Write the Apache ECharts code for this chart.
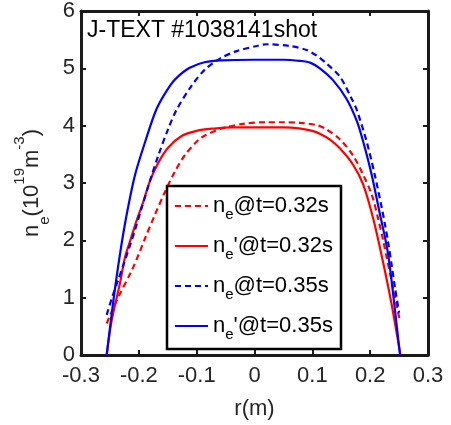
<!DOCTYPE html>
<html><head><meta charset="utf-8">
<script src="https://cdn.jsdelivr.net/npm/echarts@6.0.0/dist/echarts.min.js"></script>
<style>html,body{margin:0;padding:0;background:#fff}#c{width:451px;height:425px}</style>
</head><body><div id="c"></div>
<script>
// ---- data (r in m, ne in 1e19 m^-3) ----
const ne032_r = [-0.2556,-0.2355,-0.2124,-0.2,-0.189,-0.172,-0.155,-0.1375,-0.12,-0.097,-0.0856,-0.0567,-0.02,0.02,0.05,0.0787,0.1076,0.122,0.148,0.171,0.188,0.2027,0.214,0.2227,0.2286,0.243,0.2516];
const ne032_v = [0.55,1.01,1.47,1.76,2.04,2.45,2.84,3.20,3.49,3.75,3.83,3.95,4.03,4.06,4.06,4.05,4.01,3.95,3.76,3.47,3.14,2.80,2.37,1.99,1.70,1.01,0.58];

const neP032_r = [-0.2556,-0.247,-0.2326,-0.224,-0.215,-0.204,-0.192,-0.181,-0.166,-0.149,-0.126,-0.1,-0.07,-0.04,0,0.05,0.08,0.1,0.113,0.13,0.148,0.171,0.188,0.206,0.2227,0.237,0.249,0.2525];
const neP032_v = [0,0.6,1.25,1.70,1.99,2.34,2.68,3.03,3.36,3.62,3.82,3.91,3.95,3.97,3.97,3.97,3.95,3.91,3.86,3.76,3.60,3.31,2.97,2.35,1.60,0.89,0.2,0];

const ne035_r = [-0.2556,-0.247,-0.236,-0.225,-0.214,-0.2066,-0.195,-0.181,-0.166,-0.149,-0.1346,-0.1086,-0.0856,-0.0597,-0.031,0.004,0.021,0.061,0.09,0.1076,0.125,0.148,0.168,0.1767,0.194,0.208,0.22,0.2257,0.231,0.237,0.243,0.25];
const ne035_v = [0.70,0.98,1.30,1.62,1.95,2.18,2.57,3.03,3.49,3.95,4.28,4.70,4.98,5.17,5.30,5.39,5.42,5.39,5.32,5.22,5.08,4.85,4.47,4.28,3.72,3.14,2.57,2.27,1.97,1.58,1.17,0.74];

const neP035_r = [-0.2556,-0.244,-0.2326,-0.221,-0.2066,-0.189,-0.169,-0.146,-0.132,-0.112,-0.085,-0.057,0,0.05,0.0787,0.096,0.113,0.136,0.159,0.177,0.188,0.2027,0.217,0.2257,0.231,0.237,0.2516];
const neP035_v = [0,0.95,1.76,2.45,3.14,3.72,4.30,4.70,4.86,5.01,5.11,5.14,5.15,5.15,5.13,5.10,5.0,4.79,4.47,4.08,3.72,3.14,2.45,2.05,1.76,1.30,0];

const seriesNames = ['ne032','neP032','ne035','neP035'];
const legendTimes = ['@t=0.32s',"'@t=0.32s",'@t=0.35s',"'@t=0.35s"];
const titleText = 'J-TEXT #1038141shot';
const xRange = [-0.3, 0.3, 0.1];
const yRange = [0, 6, 1];

const zip = (a, b) => a.map((x, i) => [x, b[i]]);
const FONT = 'Liberation Sans, Arial, sans-serif';
const AX = '#1a1a1a';

const chart = echarts.init(document.getElementById('c'), null, {renderer: 'canvas'});

function mkSeries(name, r, v, color, dashed) {
  return {
    name, type: 'line', xAxisIndex: 0, yAxisIndex: 0,
    data: zip(r, v), symbol: 'none', smooth: 0.3,
    lineStyle: {color, width: 2.2, type: dashed ? [6, 4] : 'solid'},
    itemStyle: {color}, z: 2
  };
}

const axisCommon = {
  axisLine: {show: true, onZero: false, lineStyle: {color: AX, width: 3}},
  axisTick: {show: true, inside: true, length: 5, lineStyle: {color: AX, width: 2}},
  splitLine: {show: false}
};

chart.setOption({
  animation: false,
  backgroundColor: '#fff',
  grid: {left: 81, right: 23, top: 11, bottom: 67, containLabel: false},
  xAxis: [
    Object.assign({
      type: 'value', position: 'bottom', min: xRange[0], max: xRange[1], interval: xRange[2],
      axisLabel: {color: '#262626', fontSize: 22, fontFamily: FONT, margin: 10,
        formatter: v => (Math.round(v * 10) / 10).toString()},
      name: 'r(m)', nameLocation: 'middle', nameGap: 43,
      nameTextStyle: {color: '#262626', fontSize: 22, fontFamily: FONT}
    }, axisCommon),
    Object.assign({
      type: 'value', position: 'top', min: xRange[0], max: xRange[1], interval: xRange[2],
      axisLabel: {show: false}
    }, axisCommon)
  ],
  yAxis: [
    Object.assign({
      type: 'value', position: 'left', min: yRange[0], max: yRange[1], interval: yRange[2],
      axisLabel: {color: '#262626', fontSize: 22, fontFamily: FONT, margin: 6},
      name: '{n|n}{sub|e}{n|(10}{sup|19}{n|m}{sup|-3}{n|)}',
      nameLocation: 'middle', nameGap: 25, nameRotate: 90,
      nameTextStyle: {
        color: '#262626', fontFamily: FONT,
        rich: {
          n: {fontSize: 22, lineHeight: 40, fontFamily: FONT, color: '#262626'},
          sub: {fontSize: 15, lineHeight: 16, verticalAlign: 'bottom', fontFamily: FONT, color: '#262626'},
          sup: {fontSize: 15, lineHeight: 16, verticalAlign: 'top', fontFamily: FONT, color: '#262626'}
        }
      }
    }, axisCommon),
    Object.assign({
      type: 'value', position: 'right', min: yRange[0], max: yRange[1], interval: yRange[2],
      axisLabel: {show: false}
    }, axisCommon)
  ],
  legend: {
    data: seriesNames, orient: 'vertical', left: 174, top: 195, padding: 0,
    itemWidth: 33, itemHeight: 2, itemGap: 13, z: 6,
    selectedMode: false,
    itemStyle: {opacity: 0, borderWidth: 0},
    formatter: name => '{n|n}{s|e}{n|' + legendTimes[seriesNames.indexOf(name)] + '}',
    textStyle: {
      fontFamily: FONT, color: '#000',
      rich: {
        n: {fontSize: 22, lineHeight: 32, fontFamily: FONT, color: '#000'},
        s: {fontSize: 15, lineHeight: 8, verticalAlign: 'bottom', fontFamily: FONT, color: '#000'}
      }
    }
  },
  graphic: [
    {type: 'rect', z: 5, shape: {x: 167, y: 186, width: 174, height: 163},
      style: {fill: '#fff', stroke: '#000', lineWidth: 2.5}},
    {type: 'text', z: 6, x: 87, y: 30.5,
      style: {text: titleText, fontSize: 23, fontFamily: FONT, fill: '#000', verticalAlign: 'middle'}}
  ],
  series: [
    mkSeries(seriesNames[0], ne032_r, ne032_v, '#ff0000', true),
    mkSeries(seriesNames[1], neP032_r, neP032_v, '#ff0000', false),
    mkSeries(seriesNames[2], ne035_r, ne035_v, '#0000ff', true),
    mkSeries(seriesNames[3], neP035_r, neP035_v, '#0000ff', false)
  ]
});
</script></body></html>
